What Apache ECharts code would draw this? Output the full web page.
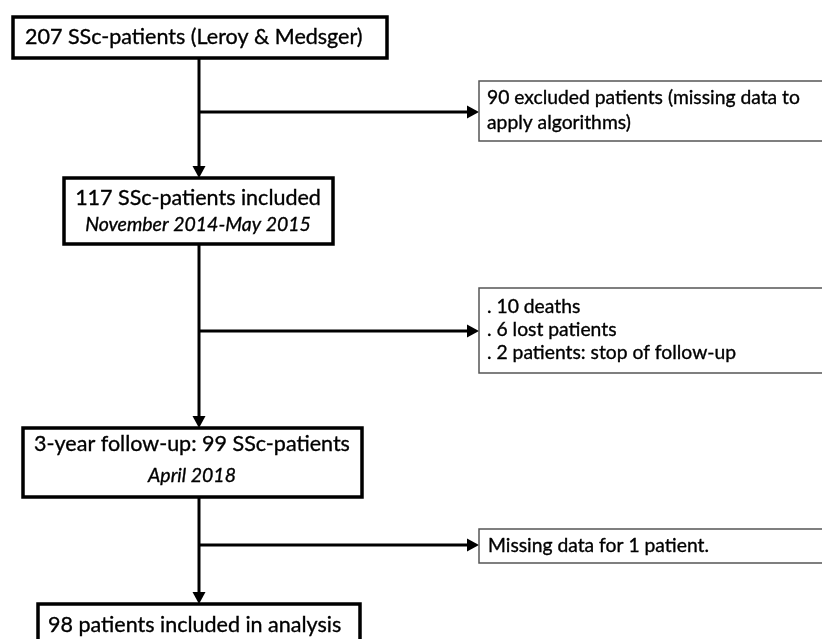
<!DOCTYPE html>
<html>
<head>
<meta charset="utf-8">
<title>SSc cohort flow chart</title>
<script src="https://cdn.jsdelivr.net/npm/echarts@6/dist/echarts.min.js"></script>
<style>
  html, body { margin: 0; padding: 0; background: #fff; }
  #chart { width: 822px; height: 639px; }
</style>
</head>
<body>
<div id="chart"></div>
<script>
  // texts of the flow chart
  const mainTitles = [
    '207 SSc-patients (Leroy & Medsger)',
    '117 SSc-patients included',
    '3-year follow-up: 99 SSc-patients',
    '98 patients included in analysis'
  ];
  const mainDates = ['', 'November 2014-May 2015', 'April 2018', ''];
  const sideNotes = [
    ['90 excluded patients (missing data to', 'apply algorithms)'],
    ['. 10 deaths', '. 6 lost patients', '. 2 patients: stop of follow-up'],
    ['Missing data for 1 patient.']
  ];

  // layout in picture pixels (x0, y0, x1, y1)
  const mainLayout = [
    { box: [13, 17, 387, 58], align: 'left', tx: 25, ty: [37] },
    { box: [64, 178, 333, 244], align: 'center', tx: 198, ty: [198, 225] },
    { box: [23, 428, 362, 497], align: 'center', tx: 192, ty: [444, 476] },
    { box: [38, 604, 360, 660], align: 'left', tx: 48, ty: [625] }
  ];
  const sideLayout = [
    { box: [479, 81, 828, 141], tx: 487, ty: [98, 123] },
    { box: [479, 288, 828, 373], tx: 487, ty: [307, 330, 353] },
    { box: [479, 529, 828, 563], tx: 488, ty: [546] }
  ];
  // connectors: x1, y1, x2, y2, arrow at end
  const connectors = [
    [199, 58, 199, 178, 1],
    [199, 112, 479, 112, 1],
    [199, 244, 199, 428, 1],
    [199, 331, 479, 331, 1],
    [199, 497, 199, 604, 1],
    [199, 545, 479, 545, 1]
  ];

  const W = 822, H = 639;
  const FONT = 'Lato, "Open Sans", sans-serif';

  let myChart = echarts.init(document.getElementById('chart'));

  function renderConnector(params, api) {
    let a = api.coord([api.value(0), api.value(1)]);
    let b = api.coord([api.value(2), api.value(3)]);
    let children = [];
    let dx = b[0] - a[0], dy = b[1] - a[1];
    let len = Math.sqrt(dx * dx + dy * dy);
    let ux = dx / len, uy = dy / len;
    let head = 12, half = 6.5;
    let end = [b[0] - ux * head, b[1] - uy * head];
    children.push({
      type: 'line',
      shape: { x1: a[0], y1: a[1], x2: end[0] + ux, y2: end[1] + uy },
      style: { stroke: '#000', lineWidth: 3 }
    });
    if (api.value(4)) {
      children.push({
        type: 'polygon',
        shape: {
          points: [
            [b[0], b[1]],
            [end[0] - uy * half, end[1] + ux * half],
            [end[0] + uy * half, end[1] - ux * half]
          ]
        },
        style: { fill: '#000' }
      });
    }
    return { type: 'group', children: children };
  }

  function textEl(x, y, text, opts) {
    return {
      type: 'text',
      x: x,
      y: y,
      style: {
        text: text,
        fill: '#000',
        stroke: '#000',
        lineWidth: 0.35,
        font: opts.font,
        align: opts.align,
        verticalAlign: 'middle'
      }
    };
  }

  function renderMain(params, api) {
    let i = params.dataIndex;
    let lay = mainLayout[i];
    let p0 = api.coord([api.value(0), api.value(1)]);
    let p1 = api.coord([api.value(2), api.value(3)]);
    let children = [{
      type: 'rect',
      shape: { x: p0[0], y: p0[1], width: p1[0] - p0[0], height: p1[1] - p0[1] },
      style: { fill: '#fff', stroke: '#000', lineWidth: 3.5 }
    }];
    let t0 = api.coord([lay.tx, lay.ty[0]]);
    children.push(textEl(t0[0], t0[1], mainTitles[i], {
      font: '21.5px ' + FONT, align: lay.align
    }));
    if (mainDates[i]) {
      let t1 = api.coord([lay.tx, lay.ty[1]]);
      children.push(textEl(t1[0], t1[1], mainDates[i], {
        font: 'italic 19.5px ' + FONT, align: lay.align
      }));
    }
    return { type: 'group', children: children };
  }

  function renderSide(params, api) {
    let i = params.dataIndex;
    let lay = sideLayout[i];
    let p0 = api.coord([api.value(0), api.value(1)]);
    let p1 = api.coord([api.value(2), api.value(3)]);
    let children = [{
      type: 'rect',
      shape: { x: p0[0], y: p0[1], width: p1[0] - p0[0], height: p1[1] - p0[1] },
      style: { fill: '#fff', stroke: '#555', lineWidth: 1.5 }
    }];
    sideNotes[i].forEach(function (line, k) {
      let t = api.coord([lay.tx, lay.ty[k]]);
      children.push(textEl(t[0], t[1], line, { font: '19.3px ' + FONT, align: 'left' }));
    });
    return { type: 'group', children: children };
  }

  let option = {
    animation: false,
    backgroundColor: '#fff',
    grid: { left: 0, right: 0, top: 0, bottom: 0 },
    xAxis: { type: 'value', min: 0, max: W, show: false },
    yAxis: { type: 'value', min: 0, max: H, inverse: true, show: false },
    series: [
      {
        type: 'custom',
        clip: false,
        renderItem: renderConnector,
        data: connectors
      },
      {
        type: 'custom',
        clip: false,
        renderItem: renderMain,
        data: mainLayout.map(function (l) { return l.box; })
      },
      {
        type: 'custom',
        clip: false,
        renderItem: renderSide,
        data: sideLayout.map(function (l) { return l.box; })
      }
    ]
  };

  myChart.setOption(option);
</script>
</body>
</html>
